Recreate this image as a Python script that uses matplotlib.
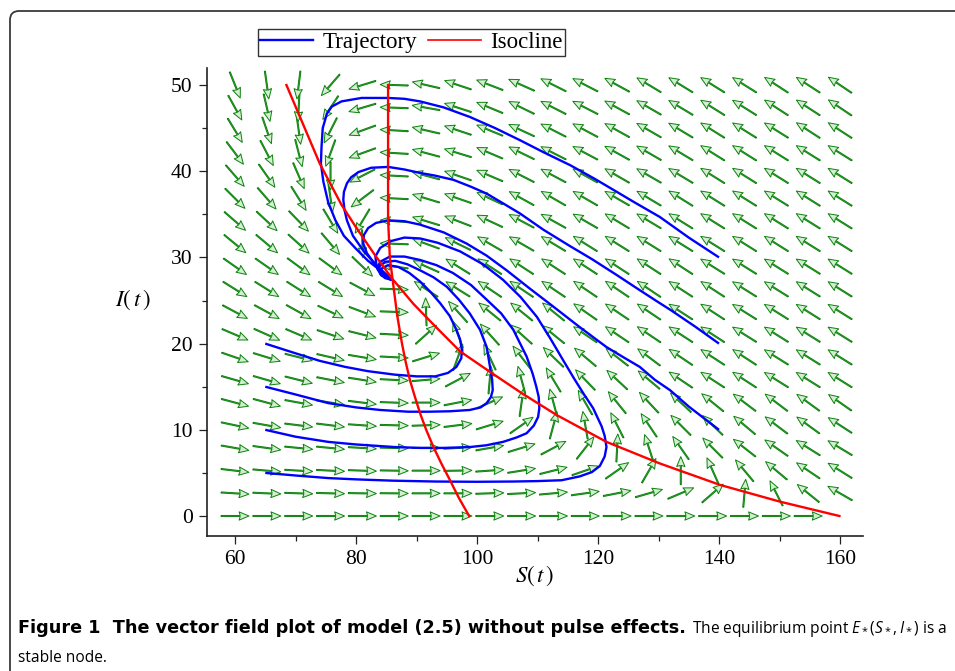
import numpy as np
import matplotlib
matplotlib.use("Agg")
import matplotlib.pyplot as plt
from matplotlib.lines import Line2D
from matplotlib.patches import FancyBboxPatch
from matplotlib.transforms import IdentityTransform

plt.rcParams["mathtext.fontset"] = "custom"
plt.rcParams["mathtext.rm"] = "Open Sans"
plt.rcParams["mathtext.it"] = "Open Sans:italic"

# ---- direction field: 20 x 20 grid over S in [60,160], I in [0,50] ----
s_grid = np.linspace(60, 160, 20)
i_grid = np.linspace(0, 50, 20)

# on-screen direction of each arrow in degrees, one list per I row (bottom to top)
field_angle_rows = [
    [0, 0, 0, 0, 0, 0, 0, 0, 0, 0, 0, 0, 0, 0, 0, 0, 0, 0, 0, np.nan],
    [-3.4, -2.5, -2, -1.5, -1, -0.5, 0, 0, 2, 3, 5, 8, 11, 16, 23, 41, 85, 117, 141, 150],
    [-6.8, -5, -3.5, -3, -2, -1, 0, 1, 4, 9, 14, 19, 35, 60, 90, 114, 130, 140, 146, 148],
    [-10, -8, -5.6, -5.5, -3.4, -1.3, 0, 3, 10, 17, 28, 52, 87, 108, 125, 135, 142, 145, 148, 149],
    [-12, -10, -7, -7, -4, -1.5, 2, 7, 17, 35, 75, 100, 117, 124, 135, 136, 140, 143, 144, 147],
    [-15, -15, -10.4, -9, -7, -2, 0, 11, 24, 82, 105, 120, 129, 133, 137, 141, 143, 143, 144, 145],
    [-16, -16, -14, -11, -9, -3, 5, 28, 85, 105, 121, 134, 137, 140, 146, 147, 147, 148, 148, 148],
    [-19, -17, -14, -13, -9.5, -3, 17, 70, 115, 128, 136, 140, 142, 143, 146, 147, 147, 148, 148, 148],
    [-23, -24, -23, -18.4, -14, -3, 42, 110, 132, 138, 141, 146, 146, 146, 147, 147, 148, 148, 148, 148],
    [-28, -28.5, -29, -26, -20.5, -2, 92, 132, 141, 141, 141, 145, 146, 146, 147, 147, 148, 148, 148, 148],
    [-32, -32, -32.4, -31.6, -28, -2, 147, 148, 146, 146, 146, 146, 146, 146, 147, 147, 148, 148, 148, 148],
    [-35, -35, -36.4, -36.4, -43.8, 172, 156, 148, 147, 147, 147, 147, 147, 147, 147, 148, 148, 148, 148, 148],
    [-39.5, -40, -42, -49.7, -88, 178, 160, 154, 150, 150, 149, 148, 148, 148, 148, 148, 148, 148, 148, 148],
    [-41, -43, -46, -59, -121, 176, 163, 159, 155, 152, 151, 150, 149, 149, 148, 148, 148, 148, 148, 148],
    [-45, -49, -58, -82, -143, 177, 163, 161, 155, 151, 150, 150, 150, 149, 148, 148, 148, 148, 148, 148],
    [-49, -55, -66.7, -90, -153, 177, 165, 161, 157, 153, 152, 151, 150, 150, 149, 148, 148, 148, 148, 148],
    [-53, -62.6, -75.5, -110, -160, 176.6, 165, 163, 157, 154, 153, 152, 151, 150, 149, 148, 148, 148, 148, 148],
    [-58.7, -71, -82, -117, -160, 176.6, 167, 161.6, 157.6, 155, 153, 152, 151, 150, 149, 148, 148, 148, 147, 147],
    [-61, -77, -93, -123.4, -163.7, 178, 170, 162, 157.6, 154, 153, 152.8, 151.4, 150, 149, 148, 148, 147, 147, 146],
    [-68, -82, -97, -131, -163, 178, 167, 161.6, 159, 156, 153.4, 152.8, 151.4, 149, 148.5, 148, 148, 147, 147, 146],
]

# ---- isoclines ----
iso_ds_S = [68.5, 74.0, 77.6, 80.0, 83.0, 85.9, 89.5, 93.1, 97.2, 102.4, 107.5, 113.2, 121.4, 130.2, 140.2, 150.1, 159.9]
iso_ds_I = [50.0, 40.9, 36.1, 33.5, 30.4, 27.6, 24.6, 22.0, 19.1, 16.6, 14.2, 11.7, 8.6, 6.1, 3.6, 1.66, 0.0]

iso_di_S = [98.7, 97.0, 95.5, 94.1, 92.8, 91.6, 90.6, 89.7, 88.9, 88.2, 87.6, 86.8, 86.2, 85.6, 85.3, 85.3, 85.3]
iso_di_I = [0.0, 2.1, 4.2, 6.1, 8.0, 10.0, 11.9, 13.9, 15.8, 17.9, 20.0, 23.3, 26.6, 29.9, 34.4, 42.0, 50.0]

# ---- trajectories (all end at the equilibrium near S=85.9, I=27.4) ----
traj_1_S = [65, 69.9, 74, 78.2, 82, 86.4, 90, 93.1, 95.2, 96.6, 97.4, 97.5, 97.2, 96.6, 95.5, 93.9, 92.3, 90.6,
            88.8, 87, 85.3, 84.2, 84, 84.8, 85.9]
traj_1_I = [20, 18.9, 18, 17.3, 16.8, 16.4, 16.2, 16.2, 16.6, 17.3, 18.3, 19.3, 20.5, 21.6, 23.2, 24.7, 26, 27.2,
            28.2, 28.9, 29.1, 28.7, 28.1, 27.6, 27.4]

traj_2_S = [65, 70, 75.4, 80, 84, 88.6, 92, 95.5, 98.8, 100.6, 101.6, 102.3, 102.6, 102.5, 102.1, 101.6, 100.5,
            98.8, 97, 95, 92.8, 90.6, 88.5, 86.5, 84.8, 83.8, 84, 85, 85.9]
traj_2_I = [15, 14.1, 13.1, 12.6, 12.3, 12.1, 12.1, 12.15, 12.3, 12.6, 13.1, 13.8, 14.6, 15.8, 17.5, 19.6, 21.6,
            23.5, 25.1, 26.6, 27.7, 28.5, 29.2, 29.6, 29.5, 28.9, 28.2, 27.7, 27.4]

traj_3_S = [65, 70, 75.4, 80, 86.4, 90.6, 94.5, 98.8, 101.5, 104.3, 106.5, 108.2, 109.4, 110.1, 110.3, 110.2,
            109.8, 109.2, 108.2, 106, 104, 101.6, 99, 96, 93.3, 90.6, 88, 85.6, 84, 83.5, 84.2, 85.9]
traj_3_I = [10, 9.2, 8.6, 8.3, 8.0, 7.9, 7.9, 8.0, 8.2, 8.6, 9.1, 9.6, 10.5, 11.5, 12.5, 13.8,
            15, 16.5, 18.5, 21.6, 23.5, 25.1, 26.8, 28.2, 29.1, 29.7, 30.1, 30.1, 29.5, 28.7, 27.9, 27.4]

traj_4_S = [65, 70, 75.4, 80, 86, 93.1, 100, 106, 110, 114, 117, 119, 120.3, 121.1, 121.4, 121.1, 120.6, 119.2,
            117.6, 116, 114.3, 112.2, 109.9, 107.2, 104.3, 101, 97.2, 93.5, 90.6, 88, 85.8, 84, 83.2, 83.4, 84.5, 85.9]
traj_4_I = [5, 4.7, 4.4, 4.25, 4.1, 4.0, 3.97, 4.0, 4.05, 4.15, 4.6, 5.1, 5.8, 6.9, 8.0, 9.3, 10.4, 12.5,
            14.2, 16, 18, 20.5, 23.1, 25.4, 27.4, 29.2, 30.7, 31.7, 32.2, 32.3, 31.9, 31.1, 30.1, 29, 28, 27.4]

traj_5_S = [140, 135, 131.9, 129.4, 126.9, 124, 121.4, 117, 112.6, 108.7, 104.9, 101.6, 98.3, 94.5, 90.6, 88,
            85.3, 83.3, 82, 81.3, 81.2, 81.8, 83, 84.5, 85.9]
traj_5_I = [10, 12.7, 14.6, 15.8, 17.3, 18.5, 19.6, 21.9, 24.3, 26.4, 28.5, 30.2, 31.6, 32.9, 33.8, 34.2,
            34.3, 34, 33.4, 32.6, 31.6, 30.5, 29.3, 28.3, 27.4]

traj_6_S = [140, 136, 132, 130.2, 126.9, 123, 119, 115.4, 111, 107.1, 104, 101.6, 99, 96.1, 93, 90.6, 88, 85.3, 82.5,
            80.4, 79.2, 78.5, 78, 77.9, 78.1, 78.5, 79.5, 81.3, 83.5, 85.9]
traj_6_I = [20, 22, 23.9, 24.7, 26.2, 28, 29.8, 31.3, 33.2, 35.1, 36.4, 37.4, 38.2, 39, 39.5, 39.8, 40.2, 40.5, 40.4,
            39.9, 39.3, 38.6, 37.6, 36.7, 35.5, 34.3, 32.5, 30.7, 29, 27.4]

traj_7_S = [140, 135, 130.2, 126, 123.6, 119.5, 115.4, 111, 107.1, 103, 98.8, 94.5, 90.6, 88, 85.3, 80.9, 77.6, 76,
            75.2, 74.5, 74.3, 74.2, 74.6, 75.4, 76.6, 78, 80, 82, 84.2, 85.9]
traj_7_I = [30, 32.3, 34.7, 36.4, 37.4, 39.1, 40.7, 42.2, 43.6, 45, 46.3, 47.4, 48.1, 48.4, 48.5, 48.5, 48.1, 47.5,
            46.7, 45, 42.8, 40.9, 38.8, 36.4, 34.3, 32.5, 31, 29.6, 28.4, 27.4]

trajectories = [
    (traj_1_S, traj_1_I), (traj_2_S, traj_2_I), (traj_3_S, traj_3_I), (traj_4_S, traj_4_I),
    (traj_5_S, traj_5_I), (traj_6_S, traj_6_I), (traj_7_S, traj_7_I),
]

x_major = [60, 80, 100, 120, 140, 160]
y_major = [0, 10, 20, 30, 40, 50]

W, H = 955, 671
fig = plt.figure(figsize=(W / 100, H / 100), dpi=100)
fig.patch.set_facecolor("white")

# page frame with rounded top-left corner
frame = FancyBboxPatch((10, -60), 1200, H - 11 + 60, boxstyle="round,pad=0,rounding_size=9",
                       transform=IdentityTransform(), facecolor="none", edgecolor="#3a3a3a",
                       linewidth=1.3, clip_on=False)
fig.patches.append(frame)

ax = fig.add_axes([207.3 / W, (H - 535.7) / H, (863 - 207.3) / W, (535.7 - 68.3) / H])
ax.set_xlim(55.42, 163.8)
ax.set_ylim(-2.285, 51.94)

SS, II = np.meshgrid(s_grid, i_grid)
ang = np.radians(np.array(field_angle_rows, dtype=float))
ok = np.isfinite(ang)
U = np.cos(ang[ok])
V = np.sin(ang[ok])
green = "#0a820a"
ax.quiver(SS[ok], II[ok], U, V, angles="uv", pivot="middle", units="dots", width=1.1,
          scale_units="dots", scale=1 / 28.0, headwidth=7.5, headlength=9, headaxislength=8,
          facecolor="#d4eed4", edgecolor=green, linewidth=0.7, zorder=2)

for s_vals, i_vals in trajectories:
    ax.plot(s_vals, i_vals, color="#0000ff", linewidth=1.7, zorder=3, solid_capstyle="butt",
            solid_joinstyle="round")

ax.plot(iso_ds_S, iso_ds_I, color="#ff0000", linewidth=1.7, zorder=4)
ax.plot(iso_di_S, iso_di_I, color="#ff0000", linewidth=1.7, zorder=4)

for side in ("top", "right"):
    ax.spines[side].set_visible(False)
for side in ("left", "bottom"):
    ax.spines[side].set_linewidth(1.2)
    ax.spines[side].set_color("#222222")

ax.set_xticks(x_major)
ax.set_yticks(y_major)
ax.set_xticks([70, 90, 110, 130, 150], minor=True)
ax.set_yticks([5, 15, 25, 35, 45], minor=True)
ax.tick_params(axis="both", which="major", direction="out", length=5.5, width=0.9, pad=5,
               labelsize=15.5, colors="#222222", labelcolor="black")
ax.tick_params(axis="both", which="minor", direction="out", length=3.5, width=0.9, colors="#222222")
for lab in ax.get_xticklabels() + ax.get_yticklabels():
    lab.set_family("Liberation Serif")

fig.text(535 / W, 1 - 576 / H, r"$S(\,t\,)$", ha="center", va="center", fontsize=16.5,
         math_fontfamily="stix")
fig.text(133 / W, 1 - 300 / H, r"$I(\,t\,)$", ha="center", va="center", fontsize=16.5,
         math_fontfamily="stix")

handles = [Line2D([], [], color="#0000ff", linewidth=1.7), Line2D([], [], color="#ff0000", linewidth=1.2)]
leg = fig.legend(handles, ["Trajectory", "Isocline"], loc="center", bbox_to_anchor=(411.5 / W, 1 - 42.5 / H),
                 ncol=2, frameon=True, fancybox=False, edgecolor="black", handlelength=2.3,
                 handletextpad=0.4, columnspacing=0.5, borderpad=0.12,
                 prop={"family": "Liberation Serif", "size": 16.5})
leg.get_frame().set_linewidth(1.0)

# caption: bold lead-in, then regular text continuing on the same baseline
cap_y1 = 1 - 633 / H
cap_y2 = 1 - 662 / H
t1 = fig.text(18 / W, cap_y1, "Figure 1  The vector field plot of model (2.5) without pulse effects.",
              fontsize=11.5, fontweight="bold", family="DejaVu Sans", va="baseline", ha="left")
fig.canvas.draw()
bb = t1.get_window_extent()
t1.set_fontsize(11.5 * (690 - 18) / bb.width)
fig.canvas.draw()
bb = t1.get_window_extent()
fig.text((bb.x1 + 6) / W, cap_y1, r"The equilibrium point $E_*(S_*, I_*)$ is a",
         fontsize=11.2, family="Open Sans", va="baseline", ha="left")
fig.text(18 / W, cap_y2, "stable node.", fontsize=11.2, family="Open Sans", va="baseline", ha="left")

fig.savefig("out.png", dpi=100, facecolor="white")
